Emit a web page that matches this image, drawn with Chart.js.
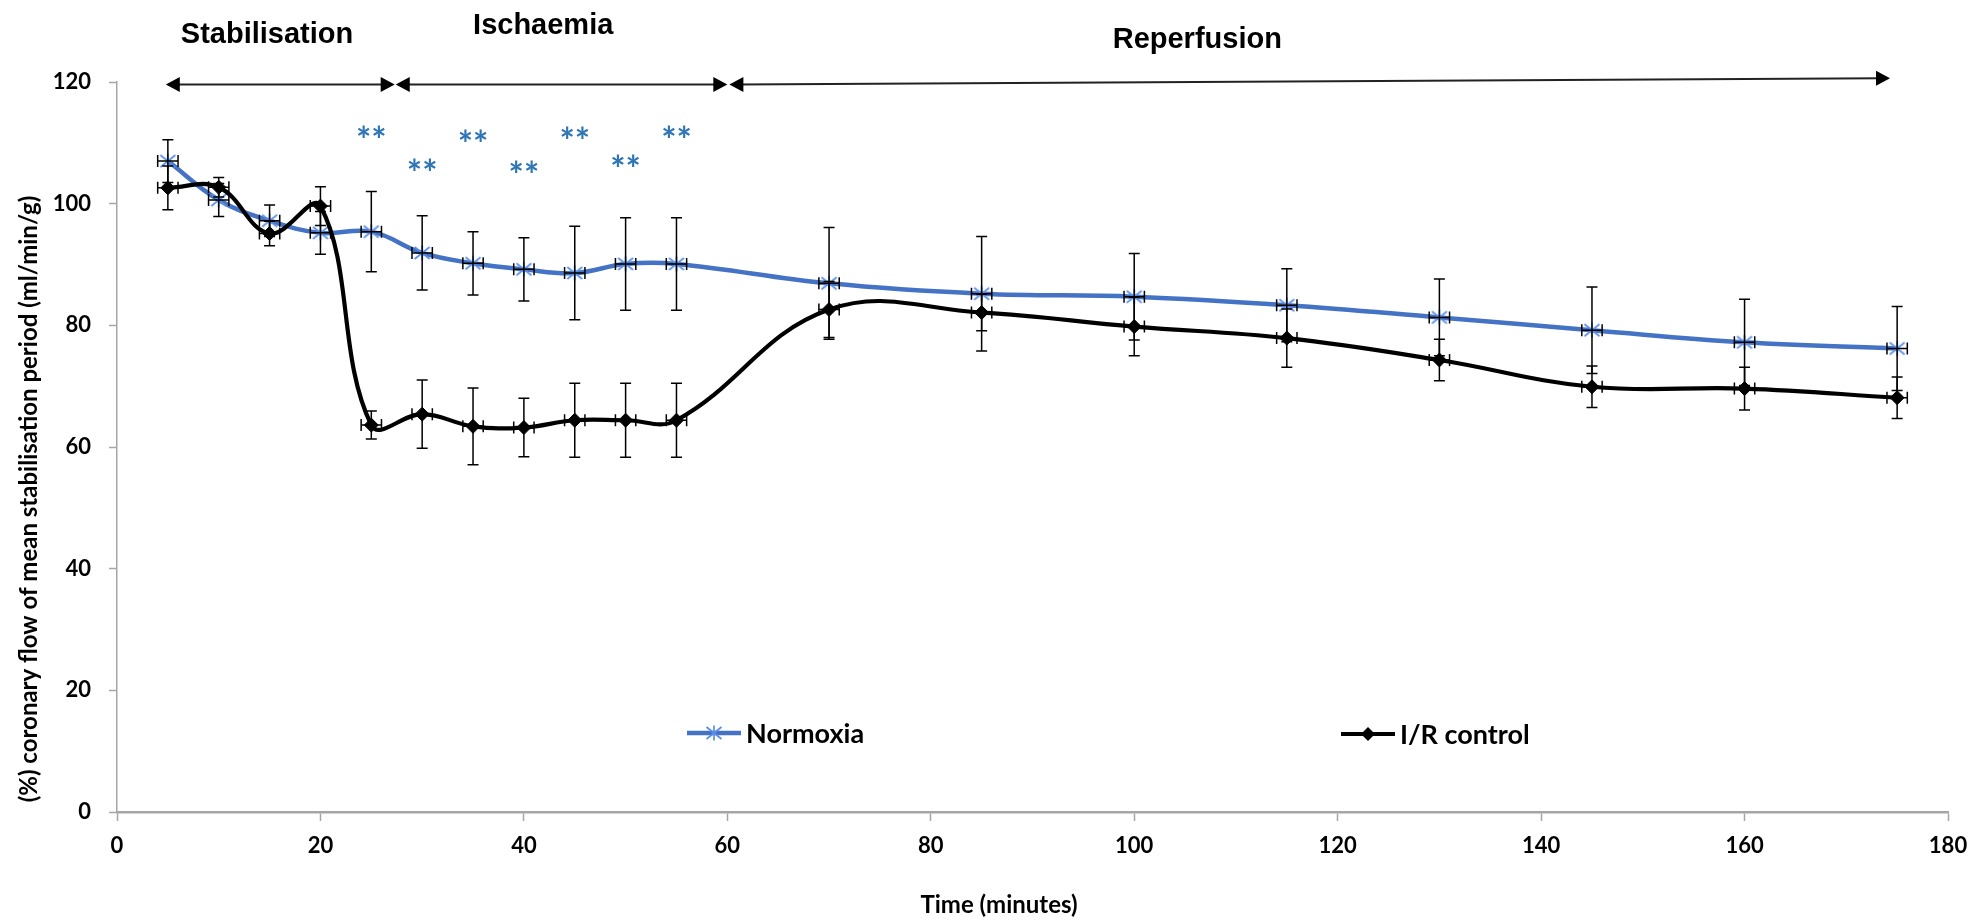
<!DOCTYPE html>
<html>
<head>
<meta charset="utf-8">
<script src="https://cdn.jsdelivr.net/npm/chart.js@4.4.1/dist/chart.umd.min.js"></script>
<style>
html, body { margin: 0; padding: 0; background: #fff; }
#wrap { width: 1973px; height: 920px; }
</style>
</head>
<body>
<div id="wrap"><canvas id="flowChart"></canvas></div>
<script>
let times = [5, 10, 15, 20, 25, 30, 35, 40, 45, 50, 55, 70, 85, 100, 115, 130, 145, 160, 175];
let normoxia = [107.0, 100.6, 97.2, 95.2, 95.4, 91.9, 90.2, 89.2, 88.6, 90.1, 90.1, 86.9, 85.2, 84.7, 83.3, 81.3, 79.2, 77.2, 76.2];
let normoxiaErr = [3.5, 2.7, 2.6, 3.5, 6.6, 6.1, 5.2, 5.2, 7.7, 7.6, 7.6, 9.2, 9.4, 7.1, 6.0, 6.3, 7.1, 7.1, 6.9];
let irControl = [102.6, 102.7, 95.1, 99.6, 63.6, 65.4, 63.4, 63.2, 64.4, 64.4, 64.4, 82.6, 82.1, 79.8, 77.9, 74.3, 69.9, 69.6, 68.1];
let irControlErr = [3.6, 1.6, 2.0, 3.2, 2.3, 5.6, 6.3, 4.8, 6.1, 6.1, 6.1, 4.6, 3.0, 4.8, 4.8, 3.4, 3.4, 3.5, 3.4];
let timeErr = 1;

// significance marks (**) over the ischaemia points
let starTimes = [25, 30, 35, 40, 45, 50, 55];
let starLevels = [111.6, 106.2, 111.0, 105.8, 111.5, 106.9, 111.6];

// experiment phases, arrows along the top
let phaseNames = ['Stabilisation', 'Ischaemia', 'Reperfusion'];
let phaseStart = [4.8, 27.4, 60.2];
let phaseEnd = [27.3, 60.0, 174.3];
let phaseLevelStart = [119.6, 119.6, 119.6];
let phaseLevelEnd = [119.6, 119.6, 120.6];

function starMarker(color)
{
  let c = document.createElement('canvas');
  c.width = 20;
  c.height = 18;
  let g = c.getContext('2d');
  g.strokeStyle = color;
  g.lineWidth = 1.7;
  g.beginPath();
  g.moveTo(10, 1.5); g.lineTo(10, 16.5);
  g.moveTo(2.5, 3); g.lineTo(17.5, 15);
  g.moveTo(17.5, 3); g.lineTo(2.5, 15);
  g.stroke();
  return c;
}
let starImg = starMarker('#5b8ee6');

function toPoints(ys)
{
  let pts = [];
  for (let i = 0; i < times.length; i++)
  {
    pts.push({x: times[i], y: ys[i]});
  }
  return pts;
}

let errorBars = {
  id: 'errorBars',
  afterDatasetsDraw(chart) {
    let ctx = chart.ctx;
    let xs = chart.scales.x, ys = chart.scales.y;
    ctx.save();
    ctx.strokeStyle = '#000';
    ctx.lineWidth = 1.5;
    chart.data.datasets.forEach(function (ds) {
      for (let i = 0; i < times.length; i++)
      {
        let px = xs.getPixelForValue(times[i]);
        let py = ys.getPixelForValue(ds.values[i]);
        let top = ys.getPixelForValue(ds.values[i] + ds.err[i]);
        let bot = ys.getPixelForValue(ds.values[i] - ds.err[i]);
        let left = xs.getPixelForValue(times[i] - timeErr);
        let right = xs.getPixelForValue(times[i] + timeErr);
        ctx.beginPath();
        ctx.moveTo(px, top); ctx.lineTo(px, bot);
        ctx.moveTo(px - 5.5, top); ctx.lineTo(px + 5.5, top);
        ctx.moveTo(px - 5.5, bot); ctx.lineTo(px + 5.5, bot);
        ctx.moveTo(left, py); ctx.lineTo(right, py);
        ctx.moveTo(left, py - 6); ctx.lineTo(left, py + 6);
        ctx.moveTo(right, py - 6); ctx.lineTo(right, py + 6);
        ctx.stroke();
      }
    });
    ctx.restore();
  }
};

function arrowHead(ctx, x, y, dir)
{
  ctx.beginPath();
  ctx.moveTo(x, y);
  ctx.lineTo(x - dir * 14, y - 7.5);
  ctx.lineTo(x - dir * 14, y + 7.5);
  ctx.closePath();
  ctx.fill();
}

let decorations = {
  id: 'decorations',
  afterDraw(chart) {
    let ctx = chart.ctx;
    let xs = chart.scales.x, ys = chart.scales.y;
    ctx.save();

    // phase arrows + names
    let labelX = [14.75, 41.9, 106.2];
    let labelY = [127.7, 129.2, 126.9];
    ctx.strokeStyle = '#222';
    ctx.fillStyle = '#000';
    ctx.lineWidth = 2;
    for (let i = 0; i < phaseNames.length; i++)
    {
      let x1 = xs.getPixelForValue(phaseStart[i]);
      let x2 = xs.getPixelForValue(phaseEnd[i]);
      let y1 = ys.getPixelForValue(phaseLevelStart[i]);
      let y2 = ys.getPixelForValue(phaseLevelEnd[i]);
      ctx.beginPath();
      ctx.moveTo(x1 + 8, y1);
      ctx.lineTo(x2 - 8, y2);
      ctx.stroke();
      arrowHead(ctx, x1, y1, -1);
      arrowHead(ctx, x2, y2, 1);
      ctx.font = 'bold 29px "Liberation Sans", Arial, sans-serif';
      ctx.textAlign = 'center';
      ctx.textBaseline = 'middle';
      ctx.fillText(phaseNames[i], xs.getPixelForValue(labelX[i]), ys.getPixelForValue(labelY[i]));
    }

    // ** marks
    ctx.fillStyle = '#2e75b6';
    ctx.font = 'bold 36px Lato, sans-serif';
    ctx.textAlign = 'center';
    ctx.textBaseline = 'alphabetic';
    for (let i = 0; i < starTimes.length; i++)
    {
      ctx.fillText('**', xs.getPixelForValue(starTimes[i]), ys.getPixelForValue(starLevels[i]) + 20);
    }

    // legend, inside the plot
    let items = [
      {ds: chart.data.datasets[0], x: 687, y: 733},
      {ds: chart.data.datasets[1], x: 1341, y: 734}
    ];
    ctx.font = 'bold 27px Lato, sans-serif';
    ctx.textAlign = 'left';
    ctx.textBaseline = 'middle';
    for (let it of items)
    {
      ctx.strokeStyle = it.ds.borderColor;
      ctx.lineWidth = it.ds.borderWidth;
      ctx.beginPath();
      ctx.moveTo(it.x, it.y);
      ctx.lineTo(it.x + 54, it.y);
      ctx.stroke();
      let mx = it.x + 27;
      if (it.ds.pointStyle === 'rectRot')
      {
        ctx.fillStyle = it.ds.pointBackgroundColor;
        ctx.beginPath();
        ctx.moveTo(mx, it.y - 7); ctx.lineTo(mx + 7, it.y); ctx.lineTo(mx, it.y + 7); ctx.lineTo(mx - 7, it.y);
        ctx.closePath();
        ctx.fill();
      }
      else
      {
        ctx.drawImage(it.ds.pointStyle, mx - it.ds.pointStyle.width / 2, it.y - it.ds.pointStyle.height / 2);
      }
      ctx.fillStyle = '#000';
      ctx.fillText(it.ds.label, it.x + 59, it.y + 1);
    }

    // axis titles
    ctx.fillStyle = '#000';
    ctx.textAlign = 'center';
    ctx.textBaseline = 'middle';
    ctx.font = 'bold 24px Lato, sans-serif';
    ctx.fillText('Time (minutes)', 999, 905);
    ctx.translate(29, 499);
    ctx.rotate(-Math.PI / 2);
    ctx.font = 'bold 24px Lato, sans-serif';
    ctx.fillText('(%) coronary flow of mean stabilisation period (ml/min/g)', 0, 0);
    ctx.restore();
  }
};

let ctx = document.getElementById('flowChart').getContext('2d');
let flowChart = new Chart(ctx, {
  type: 'line',
  data: {
    datasets: [
      {
        label: 'Normoxia',
        data: toPoints(normoxia),
        values: normoxia,
        err: normoxiaErr,
        borderColor: '#4472c4',
        borderWidth: 4.5,
        pointStyle: starImg,
        pointRadius: 9,
        tension: 0.4,
        order: 2
      },
      {
        label: 'I/R control',
        data: toPoints(irControl),
        values: irControl,
        err: irControlErr,
        borderColor: '#000',
        borderWidth: 4.2,
        pointStyle: 'rectRot',
        pointRadius: 7,
        pointBackgroundColor: '#000',
        pointBorderColor: '#000',
        pointBorderWidth: 1,
        tension: 0.4,
        order: 1
      }
    ]
  },
  options: {
    responsive: true,
    maintainAspectRatio: false,
    animation: false,
    devicePixelRatio: 1,
    layout: {padding: {left: 0, top: 82, right: 25, bottom: 0}},
    plugins: {
      legend: {display: false},
      tooltip: {enabled: false}
    },
    scales: {
      x: {
        type: 'linear',
        min: 0,
        max: 180,
        afterFit: function (scale) {
          scale.height = 108;
          scale.paddingRight = 0;
          scale.paddingLeft = 0;
        },
        ticks: {stepSize: 20, padding: 12, color: '#000', font: {family: 'Lato', weight: 'bold', size: 22}},
        grid: {drawOnChartArea: false, tickLength: 9, color: '#a6a6a6', tickWidth: 1.5},
        border: {color: '#a6a6a6', width: 2.5}
      },
      y: {
        min: 0,
        max: 120,
        afterFit: function (scale) { scale.width = 117; },
        ticks: {stepSize: 20, padding: 18, color: '#000', font: {family: 'Lato', weight: 'bold', size: 22}},
        grid: {drawOnChartArea: false, tickLength: 8, color: '#a6a6a6', tickWidth: 1.5},
        border: {color: '#a6a6a6', width: 1.5}
      }
    }
  },
  plugins: [errorBars, decorations]
});
</script>
</body>
</html>
